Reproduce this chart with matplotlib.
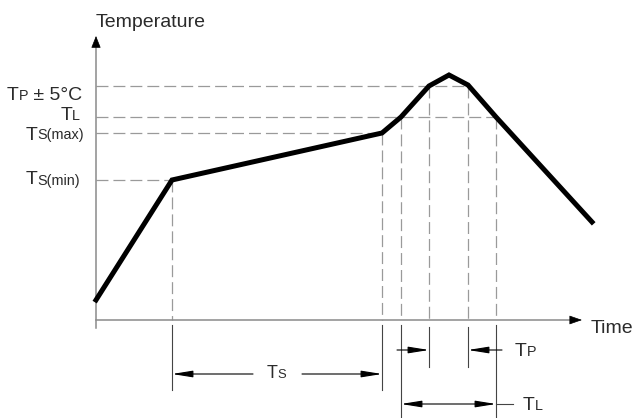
import matplotlib
matplotlib.use("Agg")
import matplotlib.pyplot as plt
from matplotlib.offsetbox import TextArea, HPacker, AnnotationBbox

plt.rcParams['font.family'] = ['Liberation Sans', 'DejaVu Sans']
plt.rcParams['lines.scale_dashes'] = False

# reflow profile (time and temperature in arbitrary units)
time_pts = [0, 76, 286, 305, 333, 353, 372, 400, 496]
temp_pts = [20, 140, 187, 203, 234, 245, 235, 203, 98]

# levels on the temperature axis
ts_min = 140
ts_max = 187
t_liq = 203
t_peak = 234

# times where the profile meets the levels
t_smin, t_smax = 76, 286
t_l_up, t_l_down = 305, 400
t_p_up, t_p_down = 333, 372

TXT = '#2b2b2b'
DASH = '#9a9a9a'
AXC = '#8a8a8a'
DIM = '#444444'
BIG = 14
SMALL = 10.4

fig = plt.figure(figsize=(6.35, 4.18), dpi=100)
ax = fig.add_axes([0, 0, 1, 1])
ax.set_xlim(-96, 539)
ax.set_ylim(-98, 320)
ax.axis('off')

# axes: grey lines with black arrow heads
ax.plot([0, 0], [-8, 280], color=AXC, lw=1.1)
ax.plot([0, 480], [0, 0], color=AXC, lw=1.1)
ax.annotate('', xy=(0, 284), xytext=(0, 274),
            arrowprops=dict(arrowstyle='-|>,head_length=0.75,head_width=0.3',
                            color='black', lw=0.5, shrinkA=0, shrinkB=0))
ax.annotate('', xy=(486, 0), xytext=(476, 0),
            arrowprops=dict(arrowstyle='-|>,head_length=0.8,head_width=0.28',
                            color='black', lw=0.5, shrinkA=0, shrinkB=0))

ax.text(0, 320 - 27, 'Temperature', fontsize=BIG, color=TXT, ha='left', va='baseline')
ax.text(495, 320 - 333, 'Time', fontsize=BIG, color=TXT, ha='left', va='baseline')

# dashed guide lines
dash = (0, (8.6, 3.6))
for lvl, tend in [(t_peak, t_p_down), (t_liq, t_l_down), (ts_max, t_smax), (ts_min, t_smin)]:
    ax.plot([0, tend], [lvl, lvl], color=DASH, lw=0.9, linestyle=dash, zorder=1)
for tx, lvl in [(t_smin, ts_min), (t_smax, ts_max), (t_l_up, t_liq),
                (t_p_up, t_peak), (t_p_down, t_peak), (t_l_down, t_liq)]:
    ax.plot([tx, tx], [lvl, 0], color=DASH, lw=0.9, linestyle=dash, zorder=1)

# profile
ax.plot(time_pts, temp_pts, color='black', lw=3.6, solid_joinstyle='miter', zorder=3)


def label(parts, xy, align):
    boxes = [TextArea(s, textprops=dict(fontsize=fs, color=TXT)) for s, fs in parts]
    pack = HPacker(children=boxes, align='baseline', pad=0, sep=0)
    ab = AnnotationBbox(pack, xy, xycoords='data', box_alignment=align,
                        frameon=False, pad=0)
    ax.add_artist(ab)


label([('T', BIG), ('P', SMALL), (' ± 5°C', BIG)], (-14, 225), (1, 0.5))
label([('T', BIG), ('L', SMALL)], (-16, 205), (1, 0.5))
label([('T', BIG), ('S(max)', SMALL)], (-12, 185), (1, 0.5))
label([('T', BIG), ('S(min)', SMALL)], (-16, 140), (1, 0.5))

# dimension lines below the time axis
for tx, y0, y1 in [(t_smin, -5, -70), (t_smax, -5, -70), (t_l_up, -5, -98),
                   (t_l_down, -5, -98), (t_p_up, -7, -47), (t_p_down, -7, -47)]:
    ax.plot([tx, tx], [y0, y1], color=DIM, lw=0.8)

head = '-|>,head_length=1.25,head_width=0.2'
dh = '<|-|>,head_length=1.25,head_width=0.2'
ap = dict(arrowstyle=head, color='black', lw=0.8, shrinkA=0, shrinkB=0)

ax.annotate('', xy=(t_smin, -54), xytext=(157, -54), arrowprops=ap)
ax.annotate('', xy=(t_smax, -54), xytext=(206, -54), arrowprops=ap)
label([('T', BIG - 1), ('S', SMALL - 1)], (171, -54), (0, 0.5))

ax.annotate('', xy=(t_p_up, -30), xytext=(301, -30), arrowprops=ap)
ax.annotate('', xy=(t_p_down, -30), xytext=(406, -30), arrowprops=ap)
label([('T', BIG), ('P', SMALL)], (419, -31), (0, 0.5))

ax.annotate('', xy=(t_l_down, -84), xytext=(t_l_up, -84),
            arrowprops=dict(arrowstyle=dh, color='black', lw=0.8, shrinkA=0, shrinkB=0))
ax.plot([t_l_down, 417], [-84, -84], color=DIM, lw=0.8)
label([('T', BIG), ('L', SMALL)], (427, -85), (0, 0.5))

fig.savefig('out.png', dpi=100)
